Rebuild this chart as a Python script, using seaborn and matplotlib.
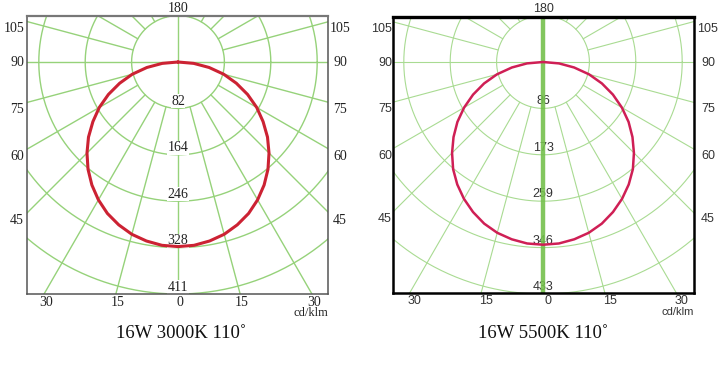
import numpy as np
import pandas as pd
import matplotlib
matplotlib.use("Agg")
import matplotlib.pyplot as plt
import seaborn as sns

# ---------------- data ----------------
angles_deg = [0, 5, 10, 15, 20, 25, 30, 35, 40, 45, 50, 55, 60, 65, 70, 75, 80, 85, 90]
intensity_3000k = [327, 326, 322, 316, 307, 296, 282, 266, 248, 228, 207, 184, 161, 136,
                   110, 84, 56, 28, 0]
intensity_5500k = [341, 340, 336, 330, 321, 309, 295, 279, 261, 240, 218, 195, 170, 144,
                   117, 89, 59, 30, 0]
ring_labels_3000k = [82, 164, 246, 328, 411]
ring_labels_5500k = [86, 173, 259, 346, 433]
side_angle_labels = [105, 90, 75, 60, 45]
bottom_angle_labels = [30, 15, 0, 15, 30]
top_label = "180"
unit_label = "cd/klm"
titles = ["16W 3000K 110˚", "16W 5500K 110˚"]

sns.set_style("white")
plt.rcParams["font.family"] = ["Liberation Serif", "DejaVu Serif"]

W, H = 725, 365
fig = plt.figure(figsize=(W / 100, H / 100), dpi=100)
RING_PX = 46.4


def fx(px):
    return px / W


def fy(py):
    return 1 - py / H


def draw_panel(spec, ring_labels, intensity, style):
    l, r, t, b, cx, cy = spec
    step = ring_labels[-1] / len(ring_labels)
    u = step / RING_PX  # data units per pixel
    ax = fig.add_axes([fx(l), fy(b), (r - l) / W, (b - t) / H])
    ax.set_xlim((l - cx) * u, (r - cx) * u)
    ax.set_ylim((cy - b) * u, (cy - t) * u)
    ax.set_xticks([])
    ax.set_yticks([])
    ax.set_facecolor("white")

    gc, glw = style["grid_color"], style["grid_lw"]
    # rings
    th = np.linspace(0, 2 * np.pi, 721)
    for k in range(1, 8):
        ax.plot(k * step * np.cos(th), k * step * np.sin(th), color=gc, lw=glw, zorder=1)
    # radial lines (every 15 deg from first ring outward)
    for a in range(15, 180, 15):
        if a == 90:
            continue
        ar = np.deg2rad(a)
        for s in (-1, 1):
            ax.plot([s * step * np.sin(ar), s * 12 * step * np.sin(ar)],
                    [-step * np.cos(ar), -12 * step * np.cos(ar)],
                    color=gc, lw=glw, zorder=1)
    ax.axhline(0, color=gc, lw=glw, zorder=1)
    ax.axvline(0, color=style["vline_color"], lw=style["vline_lw"],
               alpha=style["vline_alpha"], zorder=style["vline_z"])

    # intensity curve
    ang = np.deg2rad(np.array(angles_deg, dtype=float))
    I = np.array(intensity, dtype=float)
    xs = np.concatenate([-(I * np.sin(ang))[::-1], (I * np.sin(ang))[1:]])
    ys = np.concatenate([(-I * np.cos(ang))[::-1], (-I * np.cos(ang))[1:]])
    df = pd.DataFrame({"x": xs, "y": ys})
    sns.lineplot(data=df, x="x", y="y", sort=False, estimator=None,
                 color=style["curve_color"], lw=style["curve_lw"], ax=ax, zorder=5)
    ax.set_xlabel("")
    ax.set_ylabel("")

    # spines
    for side, sp in ax.spines.items():
        sp.set_visible(True)
        sp.set_color(style["frame_color"])
        sp.set_linewidth(style["frame_lw"])
        sp.set_zorder(10)
    ax.spines["top"].set_linewidth(style["frame_top_lw"])
    ax.spines["top"].set_color(style["frame_top_color"])

    fam = style["family"]
    tc = style["text_color"]
    fs = style["fs"]
    # ring labels
    for k, lab in enumerate(ring_labels, start=1):
        kw = dict(ha="center", va="center", fontsize=fs, color=tc, family=fam, zorder=3)
        if style["label_bbox"]:
            kw["bbox"] = dict(facecolor="white", edgecolor="none", pad=0.3)
            kw["zorder"] = 4
        ax.text(0, -k * step + 7 * u, str(lab), **kw)

    # top label
    fig.text(fx(cx), fy(9), top_label, ha="center", va="center", fontsize=fs,
             color=tc, family=fam)

    # side angle labels at ray intersections with the frame
    for a in side_angle_labels:
        ar = np.deg2rad(a)
        tt = (cx - l) * u / np.sin(ar)
        y_data = -tt * np.cos(ar)
        py = cy - y_data / u + (1 if a == 90 else 7)
        fig.text(fx(style["left_lab_x"]), fy(py), str(a), ha="right", va="center",
                 fontsize=fs, color=tc, family=fam)
        fig.text(fx(style["right_lab_x"]), fy(py), str(a), ha="center", va="center",
                 fontsize=fs, color=tc, family=fam)

    # bottom angle labels
    for i, a in enumerate(bottom_angle_labels):
        sgn = -1 if i < len(bottom_angle_labels) // 2 else 1
        ar = np.deg2rad(a)
        px = cx + sgn * (b - cy) * np.tan(ar) + style["bottom_dx"]
        fig.text(fx(px), fy(b + 8), str(a), ha="center", va="center",
                 fontsize=fs, color=tc, family=fam)

    fig.text(fx(r), fy(b + 19), unit_label, ha="right", va="center",
             fontsize=fs - 1, color=tc, family=fam)
    return ax


left_style = dict(grid_color="#96d27a", grid_lw=1.0, vline_color="#96d27a", vline_lw=1.0,
                  vline_alpha=1.0, vline_z=1, curve_color="#cc2233", curve_lw=2.2,
                  frame_color="#555555", frame_lw=1.1, frame_top_lw=1.6,
                  frame_top_color="#777777", family=["Liberation Serif", "DejaVu Serif"],
                  text_color="#222222", fs=10, label_bbox=True,
                  left_lab_x=24, right_lab_x=340, bottom_dx=2)
right_style = dict(grid_color="#a9db92", grid_lw=0.8, vline_color="#74c04c", vline_lw=3.2,
                   vline_alpha=0.9, vline_z=4, curve_color="#cf1f55", curve_lw=1.8,
                   frame_color="#000000", frame_lw=1.8, frame_top_lw=2.4,
                   frame_top_color="#000000", family=["Liberation Sans", "DejaVu Sans"],
                   text_color="#333333", fs=9, label_bbox=False,
                   left_lab_x=392, right_lab_x=708, bottom_dx=5)

draw_panel((27, 328, 16, 294, 178, 62), ring_labels_3000k, intensity_3000k, left_style)
draw_panel((393, 694, 17, 293, 543, 62), ring_labels_5500k, intensity_5500k, right_style)

fig.text(fx(181), fy(333), titles[0], ha="center", va="center", fontsize=13.5,
         family=["Liberation Serif", "DejaVu Serif"], color="#111111")
fig.text(fx(543), fy(333), titles[1], ha="center", va="center", fontsize=13.5,
         family=["Liberation Serif", "DejaVu Serif"], color="#111111")

fig.savefig("out.png", dpi=100, facecolor="white")
